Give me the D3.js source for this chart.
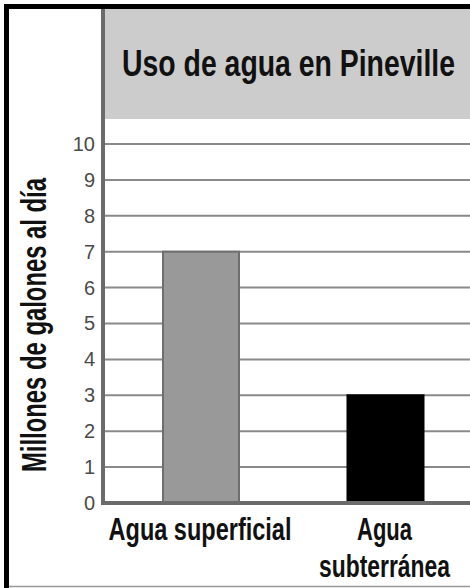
<!DOCTYPE html>
<html>
<head>
<meta charset="utf-8">
<script src="https://cdn.jsdelivr.net/npm/d3@7"></script>
<style>
  html, body { margin: 0; padding: 0; background: #fff; }
  svg { display: block; }
  .cond { font-family: "Liberation Sans", Arial, sans-serif; font-weight: bold; }
  .tick-label { font-family: "Liberation Sans", Arial, sans-serif; }
</style>
</head>
<body>
<svg id="chart" width="470" height="588"></svg>
<script>
// Water use data
const categories = ["Agua superficial", "Agua subterránea"];
const values = [7, 3];
const tickValues = [0, 1, 2, 3, 4, 5, 6, 7, 8, 9, 10];
const barColors = ["#999999", "#000000"];
const barStrokes = ["#6e6e6e", "#000000"];
const titleText = "Uso de agua en Pineville";
const yTitleText = "Millones de galones al día";
const xLabelLines = [["Agua superficial"], ["Agua", "subterránea"]];

const W = 470, H = 588;
const svg = d3.select("#chart");

const axisX = 103;
const y = d3.scaleLinear().domain([0, 10]).range([503, 144]);
const x = d3.scaleBand()
  .domain(categories)
  .range([108.75, 477.75])
  .paddingInner(0.588)
  .paddingOuter(0.294);

// Draws a narrow (horizontally squeezed) label of a given width
function narrowText(parent, str, cx, cy, size, width, rotate) {
  const g = parent.append("g");
  const t = g.append("text")
    .attr("class", "cond")
    .attr("text-anchor", "middle")
    .attr("font-size", size)
    .attr("fill", "#111")
    .text(str);
  const natural = t.node().getComputedTextLength();
  const sx = width / natural;
  g.attr("transform", `translate(${cx},${cy})` + (rotate ? ` rotate(${rotate})` : "") + ` scale(${sx},1)`);
  return g;
}

// Title banner
svg.append("rect")
  .attr("x", axisX).attr("y", 9)
  .attr("width", W - axisX).attr("height", 110)
  .attr("fill", "#cccccc");

narrowText(svg, titleText, 122 + 333 / 2, 76, 37, 333);

// Horizontal gridlines
svg.append("g")
  .selectAll("line")
  .data(tickValues.filter(d => d > 0))
  .join("line")
  .attr("x1", axisX).attr("x2", W)
  .attr("y1", d => y(d)).attr("y2", d => y(d))
  .attr("stroke", "#8a8a8a")
  .attr("stroke-width", 2);

// Bars
svg.append("g")
  .selectAll("rect")
  .data(categories)
  .join("rect")
  .attr("x", d => x(d))
  .attr("y", (d, i) => y(values[i]))
  .attr("width", x.bandwidth())
  .attr("height", (d, i) => y(0) - y(values[i]))
  .attr("fill", (d, i) => barColors[i])
  .attr("stroke", (d, i) => barStrokes[i])
  .attr("stroke-width", 2);

// Axis lines
svg.append("line")
  .attr("x1", axisX).attr("x2", axisX)
  .attr("y1", 9).attr("y2", y(0) + 2)
  .attr("stroke", "#6b6b6b").attr("stroke-width", 4);
svg.append("line")
  .attr("x1", axisX - 2).attr("x2", W)
  .attr("y1", y(0)).attr("y2", y(0))
  .attr("stroke", "#6b6b6b").attr("stroke-width", 4);

// Y tick labels
const yAxis = d3.axisLeft(y).tickValues(tickValues).tickSize(0).tickPadding(0);
const yAxisG = svg.append("g")
  .attr("transform", `translate(${axisX - 8},0)`)
  .call(yAxis);
yAxisG.select(".domain").remove();
yAxisG.selectAll("text")
  .attr("class", "tick-label")
  .attr("font-size", 20)
  .attr("fill", "#4a4a4a");

// Y axis title
narrowText(svg, yTitleText, 46, 325, 35, 294, -90);

// Category labels
const xLabelWidths = [[183], [55, 131]];
categories.forEach((c, i) => {
  xLabelLines[i].forEach((line, j) => {
    narrowText(svg, line, x(c) + x.bandwidth() / 2 - 1, 540 + j * 37, 31, xLabelWidths[i][j]);
  });
});

// Outer frame
svg.append("line")
  .attr("x1", 6.5).attr("x2", 6.5).attr("y1", 4).attr("y2", H)
  .attr("stroke", "#000").attr("stroke-width", 5);
svg.append("line")
  .attr("x1", 4).attr("x2", W).attr("y1", 6.5).attr("y2", 6.5)
  .attr("stroke", "#000").attr("stroke-width", 5);
svg.append("line")
  .attr("x1", 9).attr("x2", W).attr("y1", 586.5).attr("y2", 586.5)
  .attr("stroke", "#999").attr("stroke-width", 1.5);
</script>
</body>
</html>
